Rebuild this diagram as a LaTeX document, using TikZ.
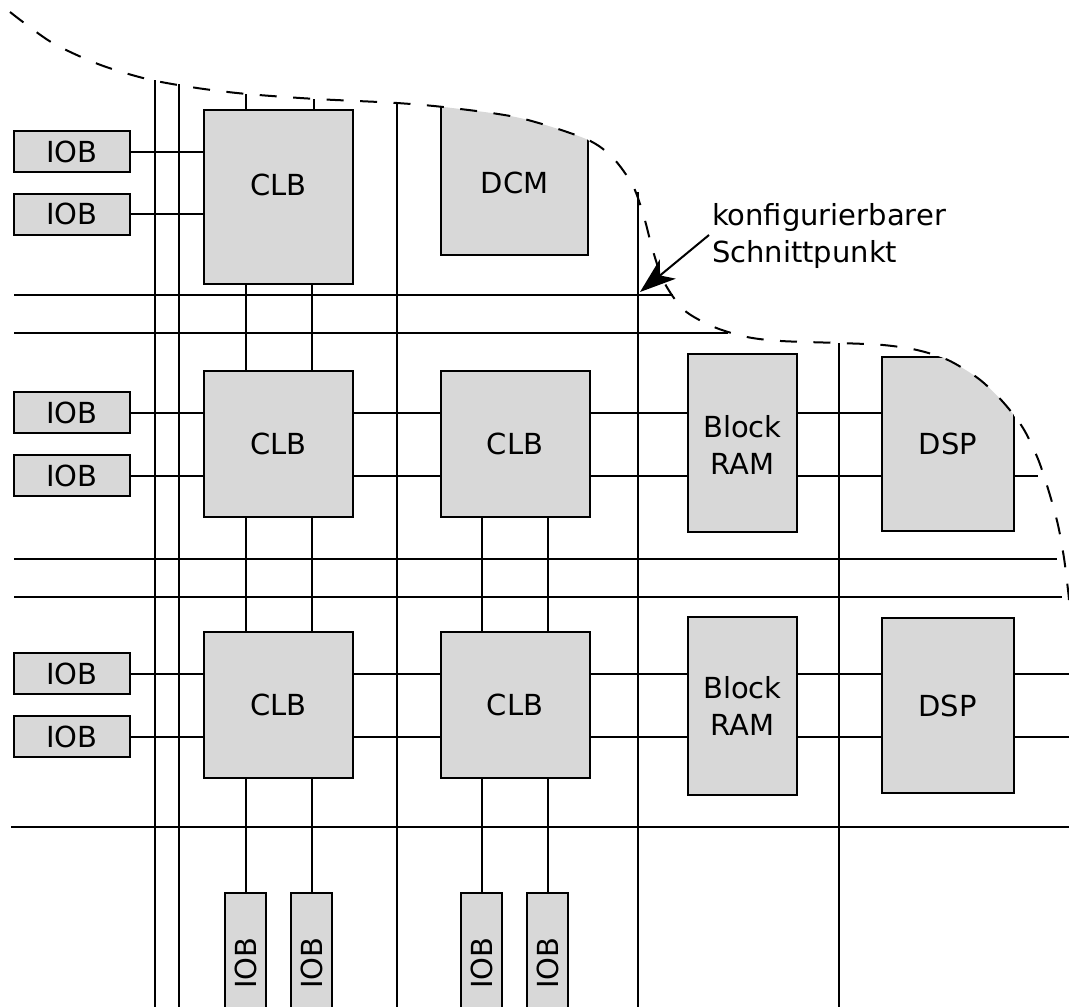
\documentclass[tikz,border=0pt]{standalone}
\usepackage{fontspec}
\setmainfont{DejaVu Sans}
\usetikzlibrary{arrows.meta}
\definecolor{blockgray}{HTML}{D8D8D8}
\newcommand{\borderpath}{plot[smooth,tension=0.5] coordinates {(10,12) (51,42) (98,64) (147,79)
    (197,88) (247,94) (316,99) (397,103) (452,108) (520,118) (586,139) (613,158) (633,186)
    (644,217) (653,251) (664,282) (684,310) (714,327) (747,337) (781,341) (839,343) (883,345)
    (917,350) (948,360) (979,379) (1003,402) (1023,428) (1038,459) (1049,492) (1058,525)
    (1064,558) (1068,590) (1069,600)}}

\begin{document}
\begin{tikzpicture}[x=1pt,y=-1pt,line width=2pt,
    every node/.style={font=\fontsize{29}{37}\selectfont,inner sep=0pt,outer sep=0pt},
    block/.style={draw,fill=blockgray,align=center},
    clb/.style={block,minimum width=149pt,minimum height=146pt},
    ram/.style={block,minimum width=109pt,minimum height=178pt},
    dsp/.style={block,minimum width=132pt,minimum height=175pt},
    iob/.style={block,minimum width=116pt,minimum height=41pt},
    iobv/.style={block,minimum width=140pt,minimum height=41pt,rotate=90},
    border/.style={dash pattern=on 17pt off 16.5pt}]
\useasboundingbox (0,0) rectangle (1069,1007);

    \foreach \x/\y in {155/80,179/84,397/103,638/192,839/343}
    {
      \coordinate (top\x) at (\x,\y);
      \coordinate (bot\x) at (\x,1007);
      \draw (top\x) -- (bot\x);
    }
    \foreach \y/\a/\b in {295/14/673,333/14/728,559/14/1057,597/14/1062,827/11/1069}
    {
      \coordinate (left\y) at (\a,\y);
      \coordinate (right\y) at (\b,\y);
      \draw (left\y) -- (right\y);
    }

    \node[block,minimum width=149pt,minimum height=174pt] (clb1) at (278.5,197) {};
    \node (clb1text) at (278.5,185) {CLB};
    \node[clb] (clb2) at (278.5,444) {CLB};
    \node[clb] (clb3) at (515,444) {CLB};
    \node[clb] (clb4) at (278.5,705) {CLB};
    \node[clb] (clb5) at (515,705) {CLB};
    \node[ram] (ram1) at (742.5,443) {\rule{0pt}{26pt}Block\\RAM};
    \node[ram] (ram2) at (742.5,705.5) {Block\\RAM};
    \node[dsp] (dsp2) at (947.5,705.5) {DSP};

    \begin{scope}
      \clip \borderpath -- (1069,1007) -- (0,1007) -- cycle;
      \node[block,minimum width=147pt,minimum height=165pt] (dcm) at (514.5,172.5) {};
      \node[dsp,minimum width=132pt,minimum height=174pt] (dsp1) at (948,444) {DSP};
    \end{scope}
    \node (dcmtext) at (514.5,183) {DCM};

    \foreach \n/\x/\y in {1/72/151.5,2/72/214,3/72/412.5,4/72/475.5,5/72/673.5,6/72/736.5}
      \node[iob] (iob\n) at (\x,\y) {IOB};
    \foreach \n/\x in {7/245.5,8/311.5,9/481.5,10/547.5}
      \node[iobv] (iob\n) at (\x,963) {IOB};

    \foreach \i/\c in {iob1/clb1,iob2/clb1,iob3/clb2,iob4/clb2,iob5/clb4,iob6/clb4}
      \draw (\i.east) -- (\i.east -| \c.west);

    \foreach \i/\l/\r in {iob3/clb2/clb3,iob4/clb2/clb3,iob3/clb3/ram1,iob4/clb3/ram1,
        iob3/ram1/dsp1,iob4/ram1/dsp1,
        iob5/clb4/clb5,iob6/clb4/clb5,iob5/clb5/ram2,iob6/clb5/ram2,
        iob5/ram2/dsp2,iob6/ram2/dsp2}
      \draw (\i.east -| \l.east) -- (\i.east -| \r.west);

    \coordinate (end4) at (1038,475.5);
    \coordinate (end5) at (1069,673.5);
    \coordinate (end6) at (1069,736.5);
    \draw (end4 -| dsp1.east) -- (end4);
    \draw (end5 -| dsp2.east) -- (end5);
    \draw (end6 -| dsp2.east) -- (end6);

    \coordinate (up7) at (246,94);
    \coordinate (up8) at (314,99);
    \draw (up7) -- (up7 |- clb1.north);
    \draw (up8) -- (up8 |- clb1.north);
    \foreach \i in {iob7,iob8}
    {
      \draw (\i.east |- clb1.south) -- (\i.east |- clb2.north);
      \draw (\i.east |- clb2.south) -- (\i.east |- clb4.north);
      \draw (\i.east |- clb4.south) -- (\i.east);
    }
    \foreach \i in {iob9,iob10}
    {
      \draw (\i.east |- clb3.south) -- (\i.east |- clb5.north);
      \draw (\i.east |- clb5.south) -- (\i.east);
    }

    \draw[border] \borderpath;

    \node[align=left,anchor=west] (label) at (712,236) {konfigurierbarer\\Schnittpunkt};
    \coordinate (cross) at (640,292);
    \coordinate (tail) at (709,235);
    \draw[-{Stealth[length=36pt,width=25pt,inset=10pt]}] (tail) -- (cross);
\end{tikzpicture}
\end{document}
